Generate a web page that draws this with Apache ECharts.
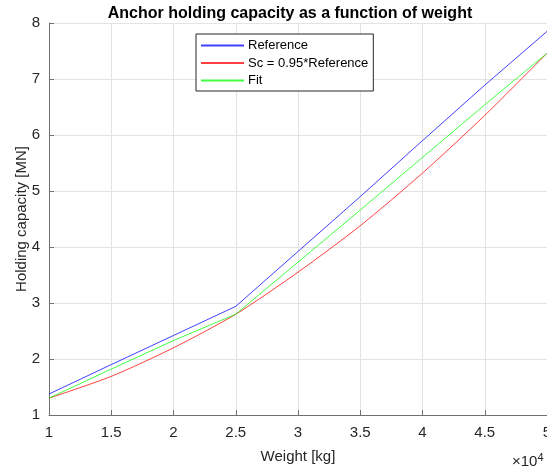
<!DOCTYPE html>
<html>
<head>
<meta charset="utf-8">
<script src="https://cdn.jsdelivr.net/npm/echarts@6/dist/echarts.min.js"></script>
<style>
  html, body { margin: 0; padding: 0; background: #fff; }
  #chart { width: 547px; height: 471px; }
</style>
</head>
<body>
<div id="chart"></div>
<script>
// weight in units of 1e4 kg
var weights = [1, 1.5, 2, 2.5, 3, 3.5, 4, 4.5, 5];
var reference = [1.375, 1.90, 2.42, 2.94, 3.92, 4.90, 5.90, 6.89, 7.85];
var scaled = [1.30, 1.69, 2.20, 2.80, 3.55, 4.38, 5.32, 6.35, 7.46];
var fit = [1.30, 1.82, 2.33, 2.80, 3.73, 4.66, 5.60, 6.54, 7.46];
var seriesNames = ['Reference', 'Sc = 0.95*Reference', 'Fit'];

function pairs(ys) {
    return weights.map(function (w, i) { return [w, ys[i]]; });
}

var font = 'Liberation Sans, Arial, sans-serif';
var textCol = '#262626';
var axisCol = '#707070';

var option = {
    animation: false,
    backgroundColor: '#fff',
    title: {
        text: 'Anchor holding capacity as a function of weight',
        left: 285,
        textAlign: 'center',
        top: 1,
        textStyle: { fontFamily: font, fontSize: 16, fontWeight: 'bold', color: '#000' }
    },
    legend: {
        orient: 'vertical',
        left: 196,
        top: 34,
        padding: [5, 5, 4, 4],
        itemWidth: 43,
        itemHeight: 14,
        itemGap: 4.5,
        backgroundColor: '#fff',
        borderColor: '#262626',
        borderWidth: 1,
        itemStyle: { opacity: 0 },
        textStyle: { fontFamily: font, fontSize: 13, color: '#000', padding: [0, 0, 0, -1] },
        data: seriesNames
    },
    grid: {
        left: 49,
        right: 0,
        top: 23,
        bottom: 56,
        outerBoundsMode: 'none'
    },
    xAxis: {
        type: 'value',
        min: 1,
        max: 5,
        interval: 0.5,
        name: 'Weight [kg]',
        nameLocation: 'middle',
        nameGap: 34,
        nameMoveOverlap: false,
        nameTextStyle: { fontFamily: font, fontSize: 15, color: textCol },
        axisLine: { onZero: false, lineStyle: { color: axisCol, width: 1 } },
        axisTick: { inside: true, length: 5, lineStyle: { color: axisCol } },
        axisLabel: { fontFamily: font, fontSize: 15, color: textCol, margin: 10 },
        splitLine: { show: true, lineStyle: { color: '#e3e3e3', width: 1 } }
    },
    yAxis: {
        type: 'value',
        min: 1,
        max: 8,
        interval: 1,
        name: 'Holding capacity [MN]',
        nameLocation: 'middle',
        nameGap: 20,
        nameMoveOverlap: false,
        nameTextStyle: { fontFamily: font, fontSize: 15, color: textCol },
        axisLine: { show: true, lineStyle: { color: axisCol, width: 1 } },
        axisTick: { show: true, inside: true, length: 5, lineStyle: { color: axisCol } },
        axisLabel: { fontFamily: font, fontSize: 15, color: textCol, margin: 9 },
        splitLine: { show: true, lineStyle: { color: '#e3e3e3', width: 1 } }
    },
    graphic: [{
        type: 'text',
        left: 512,
        top: 452,
        style: {
            text: '×10{s|4}',
            font: '15px ' + font,
            fill: textCol,
            rich: {
                s: { fontSize: 11, fontFamily: font, fill: textCol, verticalAlign: 'top', padding: [0, 0, 8, 0] }
            }
        }
    }],
    series: [
        {
            name: seriesNames[0],
            type: 'line',
            symbol: 'none',
            color: '#0000ff',
            lineStyle: { width: 1, color: '#0000ff', opacity: 0.75 },
            data: pairs(reference)
        },
        {
            name: seriesNames[1],
            type: 'line',
            symbol: 'none',
            smooth: 0.25,
            color: '#ff0000',
            lineStyle: { width: 1, color: '#ff0000', opacity: 0.75 },
            data: pairs(scaled)
        },
        {
            name: seriesNames[2],
            type: 'line',
            symbol: 'none',
            color: '#00ff00',
            lineStyle: { width: 1, color: '#00ff00', opacity: 0.75 },
            data: pairs(fit)
        }
    ]
};

var chart = echarts.init(document.getElementById('chart'));
chart.setOption(option);
</script>
</body>
</html>
